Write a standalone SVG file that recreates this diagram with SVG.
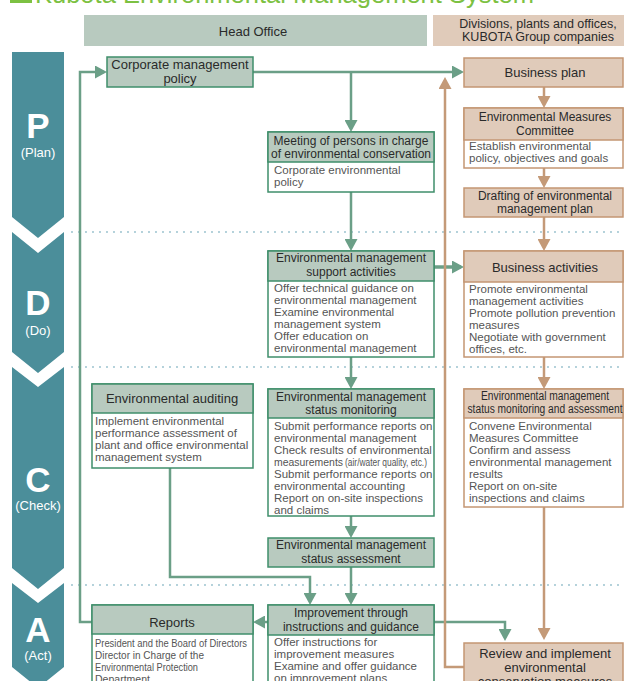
<svg xmlns="http://www.w3.org/2000/svg" width="624" height="681" viewBox="0 0 624 681">
<style>
text{font-family:"Liberation Sans",Arial,sans-serif}
.t{font-size:25.5px;fill:#7cc142}
.hd{font-size:12.5px;fill:#2a2a2a;text-anchor:middle}
.h{font-size:12px;fill:#2a2a2a;text-anchor:middle}
.hl{font-size:13px;fill:#2a2a2a;text-anchor:middle}
.b{font-size:11.5px;fill:#555}
.ph{font-size:35px;font-weight:bold;fill:#fff;text-anchor:middle}
.ps{font-size:13px;fill:#fff;text-anchor:middle}
.band{fill:#4b8e9a}
.gh{fill:#b8cabf;stroke:#3f8e6b;stroke-width:1.5}
.gb{fill:#fff;stroke:#3f8e6b;stroke-width:1.5}
.th{fill:#e0cbba;stroke:#c49673;stroke-width:1.5}
.tb{fill:#fff;stroke:#c49673;stroke-width:1.5}
.dot{stroke:#9cc3cf;stroke-width:2;stroke-dasharray:0 7;stroke-linecap:round}
.cg{fill:none;stroke:#6b9f87;stroke-width:2.5}
.ct{fill:none;stroke:#c49a78;stroke-width:2.5}
</style>
<defs>
<marker id="ag" markerWidth="13" markerHeight="13" refX="9" refY="6.5" orient="auto" markerUnits="userSpaceOnUse"><path d="M0,0 L12,6.5 L0,13 z" fill="#6b9f87"/></marker>
<marker id="at" markerWidth="13" markerHeight="13" refX="9" refY="6.5" orient="auto" markerUnits="userSpaceOnUse"><path d="M0,0 L12,6.5 L0,13 z" fill="#c49a78"/></marker>
</defs>
<rect width="624" height="681" fill="#fff"/>
<g id="title">
<rect x="10" y="-20" width="22" height="23" fill="#7cc142"/>
<text class="t" x="35" y="3">Kubota Environmental Management System</text>
</g>
<g id="col-head-office">
<rect x="84" y="15" width="343" height="31" fill="#b8cabf"/>
<text class="hd" x="253" y="36" style="font-size:13px">Head Office</text>
</g>
<g id="col-divisions">
<rect x="433" y="15" width="191" height="31" fill="#e0cbba"/>
<text class="hd" x="538" y="28">Divisions, plants and offices,</text>
<text class="hd" x="538" y="41">KUBOTA Group companies</text>
</g>
<g id="separators">
<line class="dot" x1="72" y1="232" x2="624" y2="232"/>
<line class="dot" x1="72" y1="367" x2="624" y2="367"/>
<line class="dot" x1="72" y1="585" x2="624" y2="585"/>
</g>
<g id="phase-p">
<polygon class="band" points="12,52 64,52 64,217 38,238 12,217"/>
<text class="ph" x="38" y="138">P</text>
<text class="ps" x="38" y="157">(Plan)</text>
</g>
<g id="phase-d">
<polygon class="band" points="12,232 38,253 64,232 64,352 38,373 12,352"/>
<text class="ph" x="38" y="315">D</text>
<text class="ps" x="38" y="335">(Do)</text>
</g>
<g id="phase-c">
<polygon class="band" points="12,367 38,387 64,367 64,568 38,589 12,568"/>
<text class="ph" x="38" y="492">C</text>
<text class="ps" x="38" y="510">(Check)</text>
</g>
<g id="phase-a">
<polygon class="band" points="12,583 38,603 64,583 64,667 38,688 12,667"/>
<text class="ph" x="38" y="642">A</text>
<text class="ps" x="38" y="660">(Act)</text>
</g>
<g id="connectors">
<path class="cg" d="M92,622 H80 V72 H104" marker-end="url(#ag)"/>
<path class="cg" d="M253,72 H461" marker-end="url(#ag)"/>
<path class="cg" d="M351,72 V129" marker-end="url(#ag)"/>
<path class="cg" d="M351,192 V248" marker-end="url(#ag)"/>
<path class="cg" d="M434,267 H461" style="stroke-width:3.5" marker-end="url(#ag)"/>
<path class="cg" d="M351,357 V386" marker-end="url(#ag)"/>
<path class="cg" d="M351,516 V535" marker-end="url(#ag)"/>
<path class="cg" d="M351,567 V602" marker-end="url(#ag)"/>
<path class="cg" d="M170,468 V577 H310 V602" marker-end="url(#ag)"/>
<path class="cg" d="M268,622 H256" marker-end="url(#ag)"/>
<path class="cg" d="M434,622 H505 V638" marker-end="url(#ag)"/>
<path class="ct" d="M464,667 H445 V80" marker-end="url(#at)"/>
<path class="ct" d="M544,87 V105" marker-end="url(#at)"/>
<path class="ct" d="M544,168 V185" marker-end="url(#at)"/>
<path class="ct" d="M544,217 V248" marker-end="url(#at)"/>
<path class="ct" d="M544,357 V386" marker-end="url(#at)"/>
<path class="ct" d="M544,507 V637" marker-end="url(#at)"/>
</g>
<g id="corporate-policy">
<rect class="gh" x="107" y="57" width="146" height="30"/>
<text class="hl" x="180" y="69">Corporate management</text>
<text class="hl" x="180" y="83">policy</text>
</g>
<g id="meeting">
<rect class="gb" x="268" y="132" width="166" height="60"/>
<rect class="gh" x="268" y="132" width="166" height="30"/>
<text class="h" x="351" y="145">Meeting of persons in charge</text>
<text class="h" x="351" y="158">of environmental conservation</text>
<text class="b" x="274" y="174">Corporate environmental</text>
<text class="b" x="274" y="186">policy</text>
</g>
<g id="support">
<rect class="gb" x="268" y="251" width="166" height="106"/>
<rect class="gh" x="268" y="251" width="166" height="30"/>
<text class="h" x="351" y="262">Environmental management</text>
<text class="h" x="351" y="276">support activities</text>
<text class="b" x="274" y="292">Offer technical guidance on</text>
<text class="b" x="274" y="304">environmental management</text>
<text class="b" x="274" y="316">Examine environmental</text>
<text class="b" x="274" y="328">management system</text>
<text class="b" x="274" y="340">Offer education on</text>
<text class="b" x="274" y="352">environmental management</text>
</g>
<g id="monitoring">
<rect class="gb" x="268" y="389" width="166" height="127"/>
<rect class="gh" x="268" y="389" width="166" height="29"/>
<text class="h" x="351" y="401">Environmental management</text>
<text class="h" x="351" y="414">status monitoring</text>
<text class="b" x="274" y="430">Submit performance reports on</text>
<text class="b" x="274" y="442">environmental management</text>
<text class="b" x="274" y="454">Check results of environmental</text>
<text class="b" x="274" y="466" textLength="69" lengthAdjust="spacingAndGlyphs">measurements</text>
<text class="b" x="345" y="466" style="font-size:10px" textLength="82" lengthAdjust="spacingAndGlyphs">(air/water quality, etc.)</text>
<text class="b" x="274" y="478">Submit performance reports on</text>
<text class="b" x="274" y="490">environmental accounting</text>
<text class="b" x="274" y="502">Report on on-site inspections</text>
<text class="b" x="274" y="514">and claims</text>
</g>
<g id="assessment">
<rect class="gh" x="268" y="538" width="166" height="29"/>
<text class="h" x="351" y="549">Environmental management</text>
<text class="h" x="351" y="563">status assessment</text>
</g>
<g id="audit">
<rect class="gb" x="92" y="384" width="161" height="84"/>
<rect class="gh" x="92" y="384" width="161" height="29"/>
<text class="hl" x="172" y="403">Environmental auditing</text>
<text class="b" x="95" y="425">Implement environmental</text>
<text class="b" x="95" y="437">performance assessment of</text>
<text class="b" x="95" y="449">plant and office environmental</text>
<text class="b" x="95" y="461">management system</text>
</g>
<g id="improvement">
<rect class="gb" x="268" y="605" width="166" height="90"/>
<rect class="gh" x="268" y="605" width="166" height="30"/>
<text class="h" x="351" y="617">Improvement through</text>
<text class="h" x="351" y="631">instructions and guidance</text>
<text class="b" x="274" y="646">Offer instructions for</text>
<text class="b" x="274" y="658">improvement measures</text>
<text class="b" x="274" y="670">Examine and offer guidance</text>
<text class="b" x="274" y="682">on improvement plans</text>
</g>
<g id="reports">
<rect class="gb" x="92" y="605" width="161" height="90"/>
<rect class="gh" x="92" y="605" width="161" height="29"/>
<text class="hl" x="172" y="627">Reports</text>
<text class="b" x="95" y="647" textLength="152" lengthAdjust="spacingAndGlyphs">President and the Board of Directors</text>
<text class="b" x="95" y="659" textLength="109" lengthAdjust="spacingAndGlyphs">Director in Charge of the</text>
<text class="b" x="95" y="671" textLength="103" lengthAdjust="spacingAndGlyphs">Environmental Protection</text>
<text class="b" x="95" y="683" textLength="55" lengthAdjust="spacingAndGlyphs">Department</text>
</g>
<g id="business-plan">
<rect class="th" x="464" y="58" width="159" height="29"/>
<text class="hl" x="545" y="77">Business plan</text>
</g>
<g id="committee">
<rect class="tb" x="464" y="108" width="159" height="60"/>
<rect class="th" x="464" y="108" width="159" height="32"/>
<text class="h" x="545" y="121">Environmental Measures</text>
<text class="h" x="545" y="135">Committee</text>
<text class="b" x="469" y="150">Establish environmental</text>
<text class="b" x="469" y="162">policy, objectives and goals</text>
</g>
<g id="drafting">
<rect class="th" x="464" y="188" width="159" height="29"/>
<text class="h" x="545" y="200">Drafting of environmental</text>
<text class="h" x="545" y="213">management plan</text>
</g>
<g id="business-activities">
<rect class="tb" x="464" y="251" width="159" height="106"/>
<rect class="th" x="464" y="251" width="159" height="31"/>
<text class="hl" x="545" y="272">Business activities</text>
<text class="b" x="469" y="293">Promote environmental</text>
<text class="b" x="469" y="305">management activities</text>
<text class="b" x="469" y="317">Promote pollution prevention</text>
<text class="b" x="469" y="329">measures</text>
<text class="b" x="469" y="341">Negotiate with government</text>
<text class="b" x="469" y="353">offices, etc.</text>
</g>
<g id="monitoring-assessment">
<rect class="tb" x="464" y="389" width="159" height="118"/>
<rect class="th" x="464" y="389" width="159" height="29"/>
<text class="h" x="545" y="400" textLength="128" lengthAdjust="spacingAndGlyphs">Environmental management</text>
<text class="h" x="545" y="413" textLength="155" lengthAdjust="spacingAndGlyphs">status monitoring and assessment</text>
<text class="b" x="469" y="430">Convene Environmental</text>
<text class="b" x="469" y="442">Measures Committee</text>
<text class="b" x="469" y="454">Confirm and assess</text>
<text class="b" x="469" y="466">environmental management</text>
<text class="b" x="469" y="478">results</text>
<text class="b" x="469" y="490">Report on on-site</text>
<text class="b" x="469" y="502">inspections and claims</text>
</g>
<g id="review">
<rect class="th" x="464" y="643" width="159" height="60"/>
<text class="hl" x="545" y="658">Review and implement</text>
<text class="hl" x="545" y="672">environmental</text>
<text class="hl" x="545" y="686">conservation measures</text>
</g>
</svg>
